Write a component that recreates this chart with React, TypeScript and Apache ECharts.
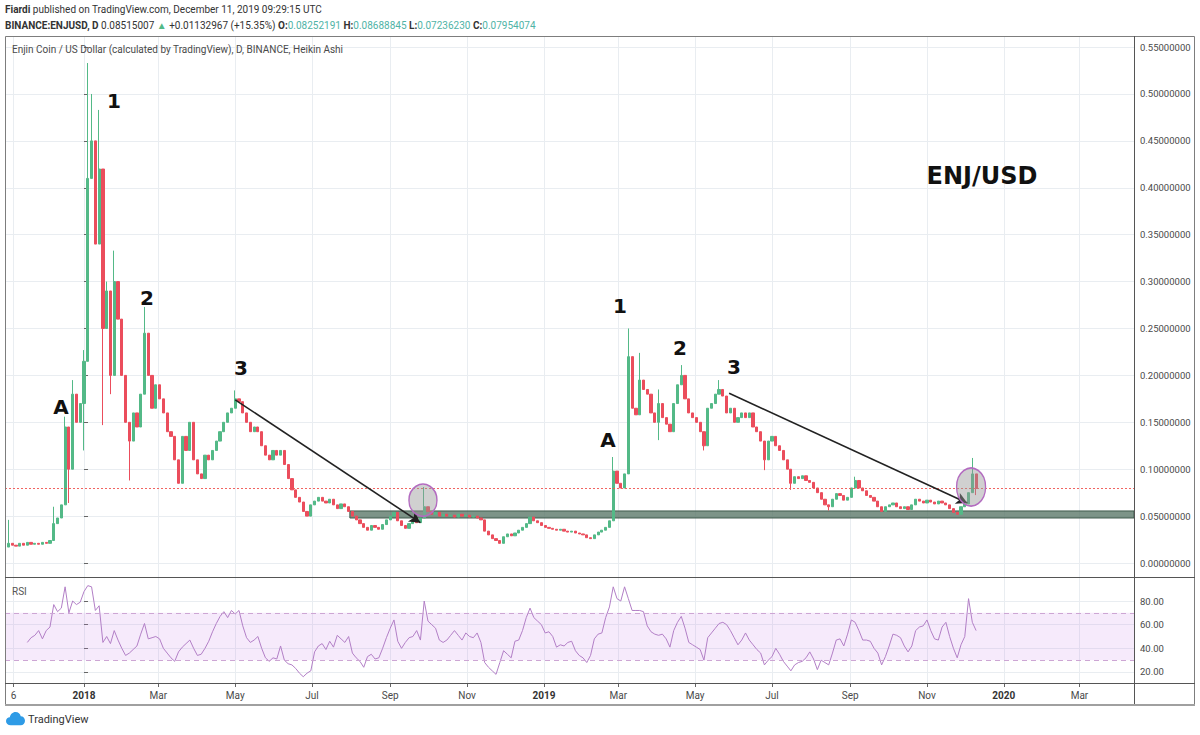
import React, { useEffect, useRef } from 'react';
import * as echarts from 'echarts';

// ---------- data ----------
const firstCandleDate = '2017-11-02';
const candleStepDays = 3;
const firstOpen = 0.017;

const closesLate2017 = [
  0.021, 0.019, 0.018, 0.021, 0.019, 0.022, 0.020, 0.021, 0.020, 0.022,
  0.021, 0.024, 0.042, 0.048, 0.062, 0.145, 0.100, 0.180, 0.150, 0.170,
];
const closesH1_2018 = [
  0.215, 0.410, 0.450, 0.340, 0.420, 0.250, 0.290, 0.200, 0.300, 0.260,
  0.200, 0.150, 0.130, 0.160, 0.145, 0.180, 0.245, 0.200, 0.165, 0.190,
  0.175, 0.160, 0.140, 0.135, 0.110, 0.085, 0.135, 0.120, 0.150, 0.110,
  0.095, 0.090, 0.115, 0.110, 0.120, 0.130, 0.140, 0.150, 0.160, 0.165,
  0.175, 0.172, 0.160, 0.150, 0.140, 0.145, 0.140, 0.125, 0.115, 0.110,
  0.120, 0.115, 0.120, 0.105, 0.090, 0.078, 0.070, 0.065, 0.055, 0.050,
];
const closesH2_2018 = [
  0.062, 0.066, 0.070, 0.066, 0.064, 0.068, 0.062, 0.058, 0.063, 0.060,
  0.055, 0.050, 0.046, 0.042, 0.038, 0.035, 0.040, 0.038, 0.036, 0.041,
  0.046, 0.050, 0.054, 0.045, 0.040, 0.037, 0.042, 0.044, 0.043, 0.048,
  0.060, 0.055, 0.052, 0.054, 0.050, 0.052, 0.050, 0.051, 0.049, 0.052,
  0.050, 0.051, 0.049, 0.050, 0.048, 0.046, 0.034, 0.030, 0.026, 0.024,
  0.021, 0.028, 0.031, 0.029, 0.032, 0.035, 0.038, 0.042, 0.049, 0.045,
];
const closesH1_2019 = [
  0.043, 0.040, 0.038, 0.037, 0.036, 0.035, 0.036, 0.034, 0.033, 0.034,
  0.032, 0.031, 0.030, 0.027, 0.026, 0.030, 0.033, 0.035, 0.038, 0.045,
  0.098, 0.085, 0.080, 0.095, 0.220, 0.165, 0.158, 0.195, 0.185, 0.180,
  0.160, 0.150, 0.170, 0.155, 0.148, 0.140, 0.170, 0.190, 0.200, 0.175,
  0.160, 0.155, 0.150, 0.140, 0.125, 0.165, 0.170, 0.180, 0.185, 0.178,
  0.160, 0.165, 0.150, 0.155, 0.160, 0.155, 0.160, 0.145, 0.140, 0.130,
];
const closesH2_2019 = [
  0.110, 0.130, 0.135, 0.125, 0.120, 0.110, 0.100, 0.085, 0.092, 0.090,
  0.093, 0.088, 0.086, 0.080, 0.075, 0.068, 0.062, 0.060, 0.068, 0.074,
  0.072, 0.067, 0.070, 0.080, 0.088, 0.080, 0.077, 0.072, 0.070, 0.066,
  0.060, 0.055, 0.060, 0.062, 0.064, 0.060, 0.058, 0.060, 0.057, 0.062,
  0.068, 0.066, 0.064, 0.067, 0.065, 0.063, 0.066, 0.064, 0.062, 0.058,
  0.054, 0.052, 0.060, 0.063, 0.075, 0.095, 0.0795,
];

// wick extremes [candle index, price]
const upperWicks = [
  [0, 0.046], [12, 0.060], [15, 0.156], [17, 0.195], [20, 0.227], [21, 0.533],
  [22, 0.50], [24, 0.483], [26, 0.30], [28, 0.333], [36, 0.273], [60, 0.184],
  [110, 0.081], [160, 0.113], [164, 0.25], [167, 0.224], [172, 0.185], [178, 0.211],
  [188, 0.195], [224, 0.092], [255, 0.112], [256, 0.0869],
];
const lowerWicks = [
  [16, 0.064], [20, 0.12], [25, 0.147], [27, 0.18], [32, 0.088], [172, 0.131],
  [184, 0.12], [200, 0.099], [207, 0.078], [217, 0.056], [256, 0.0724],
];

const rsiLate2017 = [
  null, null, null, null, null, 45, 49, 51, 55, 48,
  55, 58, 77, 71, 74, 92, 70, 80, 77, 79,
];
const rsiH1_2018 = [
  88, 93, 92, 72, 76, 45, 50, 44, 55, 47,
  40, 34, 36, 39, 42, 52, 61, 48, 49, 50,
  48, 40, 36, 32, 29, 37, 41, 44, 47, 40,
  34, 35, 40, 46, 54, 61, 67, 71, 66, 72,
  69, 72, 59, 49, 45, 47, 50, 40, 32, 29,
  32, 31, 42, 30, 27, 26, 23, 19, 16, 19,
];
const rsiH2_2018 = [
  21, 37, 42, 44, 39, 46, 41, 51, 48, 45,
  50, 36, 32, 29, 24, 33, 35, 31, 32, 40,
  49, 57, 64, 46, 40, 45, 49, 50, 55, 47,
  80, 63, 60, 57, 47, 45, 47, 51, 55, 51,
  47, 53, 50, 49, 53, 45, 28, 24, 21, 18,
  28, 38, 35, 32, 46, 47, 55, 66, 74, 66,
];
const rsiH1_2019 = [
  63, 60, 53, 54, 50, 41, 43, 42, 45, 46,
  38, 34, 32, 28, 34, 48, 52, 53, 66, 75,
  92, 82, 80, 92, 82, 72, 72, 72, 71, 59,
  54, 52, 51, 52, 48, 41, 55, 62, 67, 57,
  45, 43, 41, 39, 30, 49, 53, 57, 61, 62,
  60, 55, 49, 43, 47, 53, 47, 43, 39, 36,
];
const rsiH2_2019 = [
  26, 30, 33, 40, 35, 29, 25, 21, 26, 28,
  29, 32, 37, 31, 22, 30, 28, 26, 36, 47,
  48, 42, 52, 64, 62, 55, 47, 47, 46, 40,
  36, 26, 33, 42, 52, 51, 49, 42, 37, 42,
  55, 58, 59, 64, 55, 48, 47, 58, 62, 50,
  40, 32, 43, 50, 82, 62, 55,
];

const lastClose = 0.07954074;

const xTickDates = [
  '2017-11-06', '2018-01-01', '2018-03-01', '2018-05-01', '2018-07-01', '2018-09-01',
  '2018-11-01', '2019-01-01', '2019-03-01', '2019-05-01', '2019-07-01', '2019-09-01',
  '2019-11-01', '2020-01-01', '2020-03-01',
];
const xTickLabels = ['6', '2018', 'Mar', 'May', 'Jul', 'Sep', 'Nov', '2019', 'Mar', 'May', 'Jul', 'Sep', 'Nov', '2020', 'Mar'];
const priceTicks = [0, 0.05, 0.1, 0.15, 0.2, 0.25, 0.3, 0.35, 0.4, 0.45, 0.5, 0.55];
const rsiTicks = [20, 40, 60, 80];

// annotations in date / price terms
const trendArrows = [
  [['2018-05-01', 0.174], ['2018-09-25', 0.043]],
  [['2019-05-28', 0.181], ['2019-12-03', 0.064]],
];
const circles = [
  { date: '2018-09-27', price: 0.067, size: [28, 32] },
  { date: '2019-12-06', price: 0.081, size: [29, 38] },
];
const supportBand = { from: '2018-07-31', low: 0.048, high: 0.0555 };
const rsiBand = [30, 70];

// ---------- helpers ----------
const REF = Date.UTC(2018, 0, 1);
function dayOf(s: string): number {
  const [y, m, d] = s.split('-').map(Number);
  return (Date.UTC(y, m - 1, d) - REF) / 86400000;
}
const X_MIN = -62.7;
const X_MAX = 833.3;

const UP = '#53b987';
const DOWN = '#eb4d5c';
const GRID = '#e9edf1';
const PRICE_LINE = '#ef5350';
const FONT = 'Roboto, "Open Sans", sans-serif';

try {
  echarts.graphic.registerShape(
    'tvcloud',
    echarts.graphic.extendPath(
      'M5 14 C2 14 0 12 0 9.5 C0 7 2 5.5 4 5.5 C4.5 2.5 7 0 10 0 C13 0 15 2 15.5 4.5 C18 4.5 20 6.5 20 9.3 C20 12 18 14 15.5 14 Z',
      {}
    )
  );
} catch (e) {
  /* ignore */
}

function buildOption() {
  const closes = [...closesLate2017, ...closesH1_2018, ...closesH2_2018, ...closesH1_2019, ...closesH2_2019];
  const rsi = [...rsiLate2017, ...rsiH1_2018, ...rsiH2_2018, ...rsiH1_2019, ...rsiH2_2019];
  const start = dayOf(firstCandleDate);
  const upMap = new Map(upperWicks.map(([i, v]) => [i, v]));
  const loMap = new Map(lowerWicks.map(([i, v]) => [i, v]));
  const candles = closes.map((c, i) => {
    const o = i === 0 ? firstOpen : closes[i - 1];
    const hi = Math.max(o, c, upMap.has(i) ? (upMap.get(i) as number) : -1);
    const lo = Math.min(o, c, loMap.has(i) ? (loMap.get(i) as number) : 10);
    return [start + i * candleStepDays, o, c, lo, hi];
  });
  const rsiPoints: number[][] = [];
  rsi.forEach((v, i) => {
    if (v != null) rsiPoints.push([start + i * candleStepDays, v as number]);
  });
  const tickDays = xTickDates.map(dayOf);

  const xLabelFmt = (val: number) => {
    const k = tickDays.findIndex((t) => Math.abs(t - val) < 0.5);
    if (k < 0) return '';
    const lab = xTickLabels[k];
    return /^\d{4}$/.test(lab) ? `{y|${lab}}` : lab;
  };

  const annoText = (t: string, x: number, y: number, size = 20) => ({
    type: 'text',
    z: 50,
    style: { text: t, x, y, fill: '#111', font: `bold ${size}px "DejaVu Sans", sans-serif`, align: 'center', verticalAlign: 'middle' },
  });

  const hline = (y: number, x1: number, x2: number, color = '#7d7d7d', w = 1) => ({
    type: 'line',
    z: 60,
    shape: { x1, y1: y, x2, y2: y },
    style: { stroke: color, lineWidth: w },
  });

  const arrowStyle = { color: '#222', width: 1.6, type: 'solid' };

  return {
    animation: false,
    backgroundColor: '#ffffff',
    textStyle: { fontFamily: FONT },
    grid: [
      { left: 5, top: 36, width: 1129, height: 541 },
      { left: 5, top: 577, width: 1129, height: 106 },
    ],
    xAxis: [
      {
        type: 'value', gridIndex: 0, min: X_MIN, max: X_MAX,
        axisLine: { show: false },
        axisTick: { show: false, customValues: tickDays },
        axisLabel: { show: false, customValues: tickDays },
        splitLine: { show: true, lineStyle: { color: GRID, width: 1 } },
      },
      {
        type: 'value', gridIndex: 1, min: X_MIN, max: X_MAX,
        axisLine: { show: false },
        axisTick: { show: true, customValues: tickDays, length: 4, lineStyle: { color: '#666' } },
        axisLabel: {
          customValues: tickDays, formatter: xLabelFmt, color: '#4a4a4a', fontSize: 10, margin: 7, fontFamily: FONT,
          rich: { y: { fontWeight: 'bold', fontSize: 10, color: '#333', fontFamily: FONT } },
        },
        splitLine: { show: true, lineStyle: { color: GRID, width: 1 } },
      },
    ],
    yAxis: [
      {
        type: 'value', gridIndex: 0, position: 'right', min: -0.0149, max: 0.5618,
        axisLine: { show: false },
        axisTick: { show: true, customValues: priceTicks, length: 4, lineStyle: { color: '#666' } },
        axisLabel: { customValues: priceTicks, formatter: (v: number) => v.toFixed(8), color: '#4a4a4a', fontSize: 9.5, margin: 6, fontFamily: FONT },
        splitLine: { show: true, lineStyle: { color: GRID, width: 1 } },
      },
      {
        type: 'value', gridIndex: 1, position: 'right', min: 10.7, max: 100.3,
        axisLine: { show: false },
        axisTick: { show: true, customValues: rsiTicks, length: 4, lineStyle: { color: '#666' } },
        axisLabel: { customValues: rsiTicks, formatter: (v: number) => v.toFixed(2), color: '#4a4a4a', fontSize: 9.5, margin: 6, fontFamily: FONT },
        splitLine: { show: true, lineStyle: { color: GRID, width: 1 } },
      },
    ],
    series: [
      {
        // current price line
        type: 'line',
        xAxisIndex: 0, yAxisIndex: 0,
        data: [],
        color: PRICE_LINE,
        z: 1,
        markLine: {
          silent: true,
          symbol: ['none', 'none'],
          label: { show: false },
          itemStyle: { color: PRICE_LINE },
          lineStyle: { color: PRICE_LINE, type: [2, 2], width: 1, opacity: 0.9 },
          data: [{ yAxis: lastClose }],
        },
      },
      {
        type: 'candlestick',
        xAxisIndex: 0, yAxisIndex: 0,
        data: candles,
        encode: { x: 0, y: [1, 2, 3, 4] },
        barWidth: 2.7,
        itemStyle: { color: UP, color0: DOWN, borderColor: UP, borderColor0: DOWN, borderWidth: 1 },
        markArea: {
          silent: true,
          itemStyle: { color: 'rgba(88,118,102,0.78)', borderColor: '#3f5a4c', borderWidth: 1 },
          data: [[{ coord: [dayOf(supportBand.from), supportBand.low] }, { coord: [X_MAX, supportBand.high] }]],
        },
        markLine: {
          silent: true,
          symbol: ['none', 'none'],
          label: { show: false },
          lineStyle: arrowStyle,
          data: trendArrows.map(([a, b]) => [
            { coord: [dayOf(a[0] as string), a[1]], symbol: 'none', lineStyle: arrowStyle },
            { coord: [dayOf(b[0] as string), b[1]], symbol: 'arrow', symbolSize: [9, 11], lineStyle: arrowStyle, itemStyle: { color: '#222' } },
          ]),
        },
        markPoint: {
          silent: true,
          label: { show: false },
          data: circles.map((c) => ({
            coord: [dayOf(c.date), c.price],
            symbol: 'circle',
            symbolSize: c.size,
            itemStyle: { color: 'rgba(150,150,150,0.45)', borderColor: '#b36bc0', borderWidth: 1.5 },
          })),
        },
      },
      {
        type: 'line',
        xAxisIndex: 1, yAxisIndex: 1,
        data: rsiPoints,
        showSymbol: false,
        lineStyle: { color: '#b27fc6', width: 1 },
        itemStyle: { color: '#b27fc6' },
        markArea: {
          silent: true,
          itemStyle: { color: 'rgba(200,130,230,0.17)' },
          data: [[{ yAxis: rsiBand[0] }, { yAxis: rsiBand[1] }]],
        },
        markLine: {
          silent: true,
          symbol: ['none', 'none'],
          label: { show: false },
          lineStyle: { color: '#cda6d4', type: [5, 4], width: 1 },
          data: rsiBand.map((v) => ({ yAxis: v })),
        },
      },
    ],
    graphic: [
      // frame
      { type: 'rect', z: 60, shape: { x: 5.5, y: 36.5, width: 1189, height: 668 }, style: { fill: 'none', stroke: '#7d7d7d', lineWidth: 1 } },
      { type: 'line', z: 60, shape: { x1: 1134.5, y1: 36, x2: 1134.5, y2: 705 }, style: { stroke: '#555', lineWidth: 1 } },
      hline(577.5, 5, 1195, '#555'),
      hline(683.5, 5, 1195, '#555'),
      hline(705, 5, 1195, '#a0a0a0', 2),
      // header
      {
        type: 'text', z: 60,
        style: {
          x: 5, y: 9, verticalAlign: 'middle', fill: '#333', fontSize: 10, fontFamily: FONT,
          text: '{b|Fiardi} published on TradingView.com, December 11, 2019 09:29:15 UTC',
          rich: { b: { fontWeight: 'bold', fontSize: 10, fontFamily: FONT, fill: '#333' } },
        },
      },
      {
        type: 'text', z: 60,
        style: {
          x: 5, y: 25, verticalAlign: 'middle', fill: '#333', fontSize: 10, fontFamily: FONT,
          text: '{b|BINANCE:ENJUSD, D} 0.08515007 {g|▲} +0.01132967 (+15.35%) {b|O:}{v|0.08252191} {b|H:}{v|0.08688845} {b|L:}{v|0.07236230} {b|C:}{v|0.07954074}',
          rich: {
            b: { fontWeight: 'bold', fontSize: 10, fontFamily: FONT, fill: '#333' },
            v: { fontSize: 10, fontFamily: FONT, fill: '#4fb3a6' },
            g: { fontSize: 10, fontFamily: FONT, fill: UP },
          },
        },
      },
      {
        type: 'text', z: 60,
        style: { x: 12, y: 49, verticalAlign: 'middle', fill: '#4a4a4a', fontSize: 10, fontFamily: FONT, text: 'Enjin Coin / US Dollar (calculated by TradingView), D, BINANCE, Heikin Ashi' },
      },
      {
        type: 'text', z: 60,
        style: { x: 12, y: 591, verticalAlign: 'middle', fill: '#555', fontSize: 10, fontFamily: FONT, text: 'RSI' },
      },
      // annotations
      annoText('A', 61, 407),
      annoText('1', 114, 101),
      annoText('2', 147, 298),
      annoText('3', 241, 368),
      annoText('A', 608, 440),
      annoText('1', 620, 306),
      annoText('2', 680, 348),
      annoText('3', 734, 367),
      annoText('ENJ/USD', 982, 176, 24),
      // footer logo
      { type: 'tvcloud', z: 60, x: 6, y: 712, scaleX: 0.95, scaleY: 0.95, style: { fill: '#2e9be6' } },
      {
        type: 'text', z: 60,
        style: { x: 28, y: 719, verticalAlign: 'middle', fill: '#333', fontSize: 11, fontFamily: FONT, text: 'TradingView' },
      },
    ],
  };
}

export default function App() {
  const ref = useRef<HTMLDivElement | null>(null);
  useEffect(() => {
    if (!ref.current) return;
    const chart = echarts.init(ref.current, undefined, { renderer: 'svg' });
    chart.setOption(buildOption() as any);
    return () => chart.dispose();
  }, []);
  return (
    <div
      ref={ref}
      style={{ position: 'absolute', left: 0, top: 0, width: 1200, height: 735, background: '#ffffff' }}
    />
  );
}
